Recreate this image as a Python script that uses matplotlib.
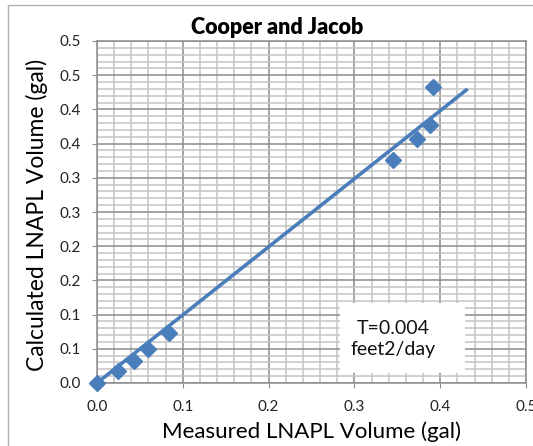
import numpy as np
import matplotlib.pyplot as plt
from matplotlib.patches import Rectangle

plt.rcParams["font.family"] = ["Lato", "DejaVu Sans"]

# measured vs calculated LNAPL volume (gal)
measured = [0.0, 0.024, 0.0427, 0.060, 0.0835, 0.345, 0.373, 0.3877, 0.392]
calculated = [0.0, 0.0175, 0.0326, 0.049, 0.0727, 0.326, 0.357, 0.377, 0.433]

x_ticks = [0.0, 0.1, 0.2, 0.3, 0.4, 0.5]
x_labels = ["0.0", "0.1", "0.2", "0.3", "0.4", "0.5"]
y_ticks = [0.0, 0.05, 0.10, 0.15, 0.20, 0.25, 0.30, 0.35, 0.40, 0.45, 0.50]
y_labels = ["0.0", "0.1", "0.1", "0.2", "0.2", "0.3", "0.3", "0.4", "0.4", "0.5", "0.5"]

# trend line through origin, drawn out to this x
trend_x_end = 0.432

mx = np.array(measured)
cy = np.array(calculated)
slope = (mx * cy).sum() / (mx * mx).sum()
trend_x = np.array([0.0, trend_x_end])
trend_y = slope * trend_x

blue = "#4a7ebb"
major_c = "#8c8c8c"
minor_c = "#c4c4c4"

fig = plt.figure(figsize=(5.33, 4.46), dpi=100)
fig.patches.append(Rectangle((8 / 533, -0.1), 1.2, 1 - 5 / 446 + 0.1, transform=fig.transFigure,
                             fill=False, edgecolor="#b0b0b0", linewidth=1))
ax = fig.add_axes([97 / 533, 1 - 383 / 446, 429 / 533, 342 / 446])

ax.set_xlim(0, 0.5)
ax.set_ylim(0, 0.5)
ax.set_xticks(x_ticks)
ax.set_xticklabels(x_labels)
ax.set_yticks(y_ticks)
ax.set_yticklabels(y_labels)
ax.set_xticks(np.arange(0, 0.5001, 0.02), minor=True)
ax.set_yticks(np.arange(0, 0.5001, 0.01), minor=True)

ax.grid(which="minor", color=minor_c, linewidth=1.1, zorder=0)
ax.grid(which="major", color=major_c, linewidth=1.1, zorder=0)
ax.set_axisbelow(True)
ax.tick_params(which="minor", length=0)
ax.tick_params(which="major", length=3.5, color=major_c, labelsize=11, labelcolor="#222222")
ax.tick_params(axis="y", pad=8)
ax.tick_params(axis="x", pad=9)
for s in ax.spines.values():
    s.set_color(major_c)
    s.set_linewidth(1.1)

ax.plot(trend_x, trend_y, color=blue, linewidth=2.6, zorder=3, solid_capstyle="butt")
ax.plot(measured, calculated, linestyle="none", marker="D", markersize=8.5,
        color=blue, zorder=4, clip_on=False)

ax.add_patch(Rectangle((0.283, 0.0146), 0.146, 0.102, facecolor="white",
                       edgecolor="none", zorder=2))
ax.text(0.345, 0.064, "T=0.004\nfeet2/day", ha="center", va="center",
        fontsize=14, linespacing=1.3, color="#111111", zorder=3)

fig.text(277 / 533, 1 - 27 / 446, "Cooper and Jacob", ha="center", va="center",
         fontsize=15.5, fontweight="heavy")
fig.text(311 / 533, 1 - 432 / 446, "Measured LNAPL Volume (gal)", ha="center",
         va="center", fontsize=16)
fig.text(37 / 533, 1 - 215 / 446, "Calculated LNAPL Volume (gal)", ha="center",
         va="center", rotation=90, fontsize=16.5)

fig.savefig("out.png", dpi=100)
